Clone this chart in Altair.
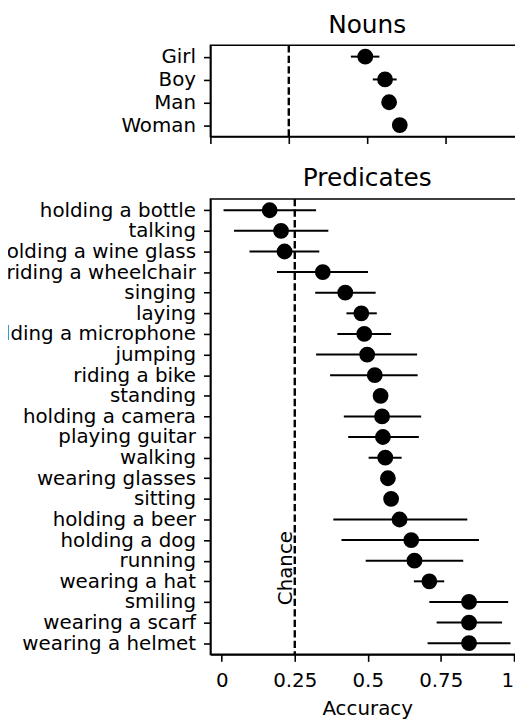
import altair as alt
import pandas as pd

FONT = "DejaVu Sans"

# ---- data ----
noun_labels = ["Girl", "Boy", "Man", "Woman"]
noun_acc = [0.494, 0.557, 0.570, 0.604]
noun_lo = [0.448, 0.518, 0.556, 0.590]
noun_hi = [0.539, 0.594, 0.584, 0.618]

pred_labels = [
    "holding a bottle", "talking", "holding a wine glass", "riding a wheelchair",
    "singing", "laying", "holding a microphone", "jumping", "riding a bike",
    "standing", "holding a camera", "playing guitar", "walking", "wearing glasses",
    "sitting", "holding a beer", "holding a dog", "running", "wearing a hat",
    "smiling", "wearing a scarf", "wearing a helmet",
]
pred_acc = [0.164, 0.203, 0.215, 0.346, 0.423, 0.478, 0.488, 0.498, 0.524,
            0.544, 0.549, 0.552, 0.560, 0.569, 0.580, 0.609, 0.649, 0.660,
            0.711, 0.847, 0.847, 0.847]
pred_lo = [0.006, 0.042, 0.095, 0.189, 0.320, 0.427, 0.396, 0.323, 0.371,
           0.532, 0.418, 0.433, 0.503, 0.556, 0.567, 0.382, 0.410, 0.493,
           0.658, 0.711, 0.736, 0.705]
pred_hi = [0.323, 0.365, 0.334, 0.501, 0.527, 0.531, 0.580, 0.669, 0.671,
           0.556, 0.683, 0.675, 0.616, 0.582, 0.593, 0.841, 0.881, 0.827,
           0.762, 0.981, 0.960, 0.989]

chance_level = [0.25]
tick_values = [0, 0.25, 0.5, 0.75, 1]


def panel(labels, acc, lo, hi, title, domain, height, xtitle, show_xlabels, ypad,
          chance_text, title_offset):
    df = pd.DataFrame({"label": labels, "acc": acc, "lo": lo, "hi": hi})
    xscale = alt.Scale(domain=domain, nice=False, zero=False)
    xaxis = alt.Axis(
        values=tick_values, format=".2~f", labels=show_xlabels,
        title=xtitle if xtitle else None, labelPadding=9, titlePadding=8.5,
        labelAlign={"condition": {"test": "datum.value == 1", "value": "right"},
                    "value": "center"},
    )
    y = alt.Y("label:N", sort=labels,
              scale=alt.Scale(type="point", padding=ypad, round=False),
              axis=alt.Axis(title=None))
    base = alt.Chart(df)
    chance = alt.Chart(pd.DataFrame({"c": chance_level})).mark_rule(
        color="black", strokeWidth=2.4, strokeDash=[7.4, 3.2]
    ).encode(x=alt.X("c:Q", scale=xscale, axis=xaxis))
    bars = base.mark_rule(color="black", strokeWidth=2).encode(
        x=alt.X("lo:Q", scale=xscale, axis=xaxis), x2="hi:Q", y=y)
    dots = base.mark_circle(size=254, color="black", opacity=1).encode(
        x=alt.X("acc:Q", scale=xscale, axis=xaxis), y=y)
    layers = [chance, bars, dots]
    if chance_text:
        txt = alt.Chart(pd.DataFrame({"c": chance_level, "t": ["Chance"]})).mark_text(
            angle=270, align="center", baseline="alphabetic", dy=-3,
            fontSize=20, font=FONT, color="black"
        ).encode(x=alt.X("c:Q", scale=xscale, axis=xaxis), y=alt.value(372), text="t:N")
        layers.append(txt)
    return alt.layer(*layers).properties(
        width=316, height=height,
        title=alt.TitleParams(title, fontSize=25, font=FONT, fontWeight="normal",
                              color="black", anchor="middle", offset=title_offset),
    )


top = panel(noun_labels, noun_acc, noun_lo, noun_hi, "Nouns", [0, 1], 92,
            None, False, 0.5, False, 6.4)
bottom = panel(pred_labels, pred_acc, pred_lo, pred_hi, "Predicates", [-0.039, 1.035], 459,
               "Accuracy", True, 0.545, True, 7.4)

chart = alt.vconcat(top, bottom, spacing=19).properties(
    padding={"left": -30, "top": 0.7, "right": -11, "bottom": 0}
).configure_view(
    stroke="black", strokeWidth=1.6
).configure_axis(
    grid=False, domainColor="black", domainWidth=1.6, tickColor="black",
    tickWidth=1.6, tickSize=7, labelFont=FONT, labelFontSize=20,
    labelColor="black", labelPadding=8, labelLimit=0, titleFont=FONT,
    titleFontSize=20, titleFontWeight="normal", titleColor="black", titlePadding=9,
)

chart.save("out.html", embed_options={"renderer": "svg", "actions": False})
